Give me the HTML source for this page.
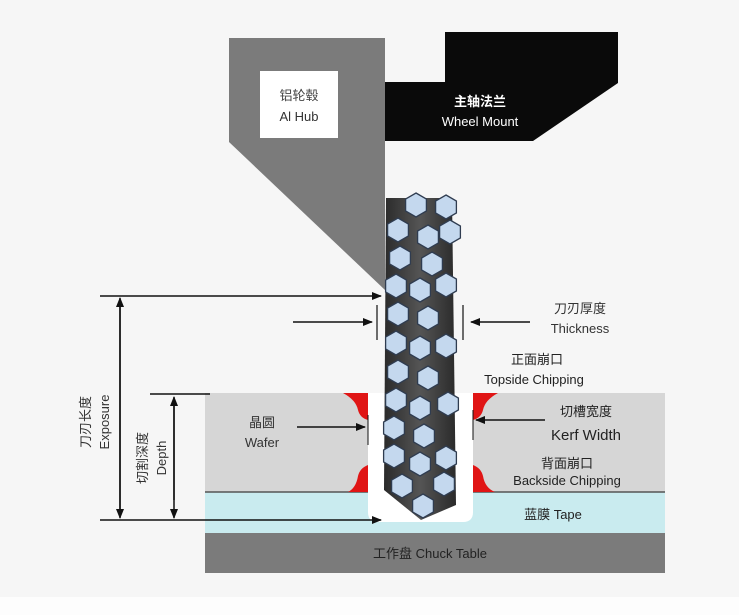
<!DOCTYPE html>
<html><head><meta charset="utf-8"><style>
html,body{margin:0;padding:0;background:#f6f6f6;}
svg{display:block;}
text{font-family:"Liberation Sans","Noto Sans CJK SC",sans-serif;}
</style></head><body>
<svg width="739" height="615" viewBox="0 0 739 615" xmlns="http://www.w3.org/2000/svg">
<defs>
<marker id="ar" markerWidth="10" markerHeight="8" refX="9" refY="4" orient="auto" markerUnits="userSpaceOnUse">
<path d="M0,0 L10,4 L0,8 z" fill="#111"/></marker>
<linearGradient id="bl" x1="0" x2="1"><stop offset="0" stop-color="#2a2a2a"/><stop offset="0.5" stop-color="#555"/><stop offset="1" stop-color="#2a2a2a"/></linearGradient>
<polygon id="hx" points="0,-12 10.4,-6 10.4,6 0,12 -10.4,6 -10.4,-6" fill="#c4d8ee" stroke="#2f3c50" stroke-width="1.3"/>
</defs>
<rect x="0" y="0" width="739" height="597" fill="#f6f6f6"/>
<rect x="0" y="597" width="739" height="18" fill="#fdfdfd"/>
<!-- hub -->
<polygon points="229,38 385,38 385,290 229,142" fill="#7b7b7b"/>
<rect x="260" y="71" width="78" height="67" fill="#fff"/>
<text x="299" y="100" font-size="13" text-anchor="middle" style="fill:#444">铝轮毂</text>
<text x="299" y="121" font-size="13" text-anchor="middle" style="fill:#333">Al Hub</text>
<!-- wheel mount -->
<polygon points="445,32 618,32 618,83 533,141 385,141 385,82 445,82" fill="#0a0a0a"/>
<text x="480" y="106" font-size="13" text-anchor="middle" font-weight="bold" style="fill:#fff">主轴法兰</text>
<text x="480" y="126" font-size="13" text-anchor="middle" style="fill:#fff">Wheel Mount</text>
<!-- chuck, tape, wafer -->
<rect x="205" y="533" width="460" height="40" fill="#7b7b7b"/>
<text x="430" y="558" font-size="13" text-anchor="middle" style="fill:#222">工作盘  Chuck Table</text>
<rect x="205" y="492" width="460" height="41" fill="#c9ebef"/>
<rect x="205" y="393" width="460" height="99" fill="#d6d6d6"/>
<line x1="205" y1="492" x2="665" y2="492" stroke="#555" stroke-width="1.5"/>
<path d="M368,393 L473,393 L473,512 Q473,522 463,522 L378,522 Q368,522 368,512 Z" fill="#fff"/>
<!-- chips -->
<path d="M343,393 L368,393 L368,420 Q360,418 358,410 Q356,400 343,393 Z" fill="#e01515"/>
<path d="M498,393 L473,393 L473,420 Q481,418 483,410 Q485,400 498,393 Z" fill="#e01515"/>
<path d="M348,492 L368,492 L368,465 Q360,468 358,476 Q356,488 348,492 Z" fill="#e01515"/>
<path d="M495,492 L473,492 L473,465 Q481,468 483,476 Q485,488 495,492 Z" fill="#e01515"/>
<!-- blade -->
<polygon points="386,198 452,198 456,505 421,520 384,490" fill="url(#bl)"/>
<g>
<use href="#hx" x="416" y="205"/><use href="#hx" x="446" y="207"/>
<use href="#hx" x="398" y="230"/><use href="#hx" x="428" y="237"/><use href="#hx" x="450" y="232"/>
<use href="#hx" x="400" y="258"/><use href="#hx" x="432" y="264"/>
<use href="#hx" x="396" y="286"/><use href="#hx" x="420" y="290"/><use href="#hx" x="446" y="285"/>
<use href="#hx" x="398" y="314"/><use href="#hx" x="428" y="318"/>
<use href="#hx" x="396" y="343"/><use href="#hx" x="420" y="348"/><use href="#hx" x="446" y="346"/>
<use href="#hx" x="398" y="372"/><use href="#hx" x="428" y="378"/>
<use href="#hx" x="396" y="400"/><use href="#hx" x="420" y="408"/><use href="#hx" x="448" y="404"/>
<use href="#hx" x="394" y="428"/><use href="#hx" x="424" y="436"/>
<use href="#hx" x="394" y="456"/><use href="#hx" x="420" y="464"/><use href="#hx" x="446" y="458"/>
<use href="#hx" x="402" y="486"/><use href="#hx" x="444" y="484"/><use href="#hx" x="423" y="506"/>
</g>
<!-- exposure -->
<line x1="100" y1="296" x2="381" y2="296" stroke="#111" stroke-width="1.5" marker-end="url(#ar)"/>
<line x1="100" y1="520" x2="381" y2="520" stroke="#111" stroke-width="1.5" marker-end="url(#ar)"/>
<line x1="120" y1="300" x2="120" y2="518" stroke="#111" stroke-width="1.5" marker-end="url(#ar)"/>
<line x1="120" y1="510" x2="120" y2="298" stroke="#111" stroke-width="1.5" marker-end="url(#ar)"/>
<!-- depth -->
<line x1="150" y1="394" x2="210" y2="394" stroke="#111" stroke-width="1.5"/>
<line x1="174" y1="405" x2="174" y2="518" stroke="#111" stroke-width="1.5" marker-end="url(#ar)"/>
<line x1="174" y1="500" x2="174" y2="397" stroke="#111" stroke-width="1.5" marker-end="url(#ar)"/>
<text transform="translate(90,422) rotate(-90)" font-size="13" text-anchor="middle" style="fill:#333">刀刃长度</text>
<text transform="translate(109,422) rotate(-90)" font-size="13" text-anchor="middle" style="fill:#333">Exposure</text>
<text transform="translate(147,458) rotate(-90)" font-size="13" text-anchor="middle" style="fill:#333">切割深度</text>
<text transform="translate(166,458) rotate(-90)" font-size="13" text-anchor="middle" style="fill:#333">Depth</text>
<!-- thickness -->
<line x1="293" y1="322" x2="372" y2="322" stroke="#111" stroke-width="1.5" marker-end="url(#ar)"/>
<line x1="530" y1="322" x2="471" y2="322" stroke="#111" stroke-width="1.5" marker-end="url(#ar)"/>
<line x1="377" y1="305" x2="377" y2="340" stroke="#111" stroke-width="1.2"/>
<line x1="463" y1="305" x2="463" y2="340" stroke="#111" stroke-width="1.2"/>
<text x="580" y="313" font-size="13" text-anchor="middle" style="fill:#333">刀刃厚度</text>
<text x="580" y="333" font-size="13" text-anchor="middle" style="fill:#333">Thickness</text>
<text x="537" y="364" font-size="13" text-anchor="middle" style="fill:#222">正面崩口</text>
<text x="534" y="384" font-size="13" text-anchor="middle" style="fill:#222">Topside Chipping</text>
<!-- wafer / kerf -->
<text x="262" y="427" font-size="13" text-anchor="middle" style="fill:#333">晶圆</text>
<text x="262" y="447" font-size="13" text-anchor="middle" style="fill:#333">Wafer</text>
<line x1="297" y1="427" x2="365" y2="427" stroke="#111" stroke-width="1.5" marker-end="url(#ar)"/>
<line x1="545" y1="420" x2="476" y2="420" stroke="#111" stroke-width="1.5" marker-end="url(#ar)"/>
<line x1="368" y1="415" x2="368" y2="445" stroke="#111" stroke-width="1"/>
<line x1="473" y1="410" x2="473" y2="440" stroke="#111" stroke-width="1"/>
<text x="586" y="416" font-size="13" text-anchor="middle" style="fill:#222">切槽宽度</text>
<text x="586" y="440" font-size="15" text-anchor="middle" style="fill:#222">Kerf Width</text>
<text x="567" y="468" font-size="13" text-anchor="middle" style="fill:#222">背面崩口</text>
<text x="567" y="485" font-size="13" text-anchor="middle" style="fill:#222">Backside Chipping</text>
<text x="553" y="519" font-size="13" text-anchor="middle" style="fill:#222">蓝膜 Tape</text>
</svg>
</body></html>
